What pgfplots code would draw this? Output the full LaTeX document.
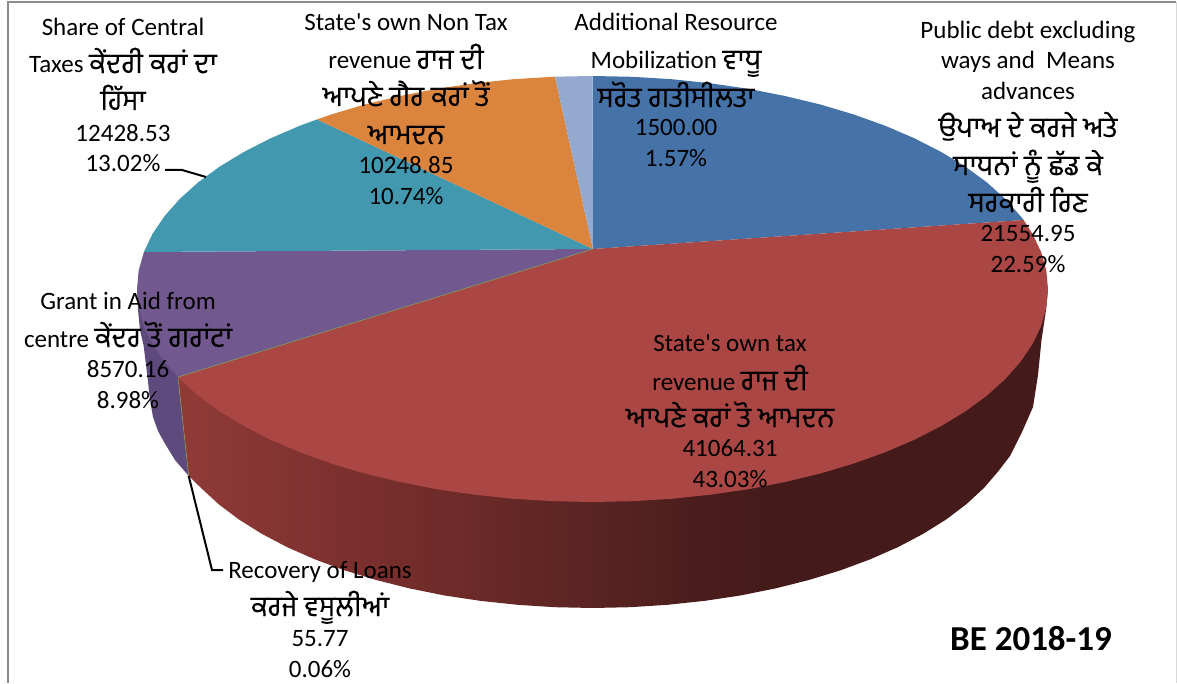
\documentclass[border=0pt]{standalone}
\usepackage{fontspec}
\usepackage{pgfplots}
\pgfplotsset{compat=1.18}
\setmainfont{Carlito}[Ligatures=TeXOff]
\newfontfamily\pa[Script=Gurmukhi,Scale=1.13,FakeBold=0.15]{Hind Jalandhar}

\definecolor{cblue}{HTML}{4572A7}
\definecolor{cred}{HTML}{AA4643}
\definecolor{cpurple}{HTML}{71588F}
\definecolor{cteal}{HTML}{4198AF}
\definecolor{corange}{HTML}{DB843D}
\definecolor{cpale}{HTML}{93A9CF}
\definecolor{cpurpleside}{HTML}{5E4A7D}
\definecolor{frame}{HTML}{8C8C8C}
\definecolor{hair}{HTML}{7F9A55}
\definecolor{rs0}{HTML}{8F3A37}
\definecolor{rs1}{HTML}{7E312F}
\definecolor{rs2}{HTML}{6E2B29}
\definecolor{rs3}{HTML}{5A2422}
\definecolor{rs4}{HTML}{4A1D1C}
\definecolor{rs5}{HTML}{441B1A}
\pgfdeclarehorizontalshading{redside}{100bp}{color(0bp)=(rs0); color(25.7bp)=(rs0); color(33.7bp)=(rs1); color(40.6bp)=(rs2); color(48.7bp)=(rs3); color(55bp)=(rs4); color(59.6bp)=(rs5); color(100bp)=(rs5)}

\newcommand{\lbl}[3]{\node[anchor=base,inner sep=0pt] at (axis cs:#1,#2) {#3};}

\begin{document}
\begin{tikzpicture}
\begin{axis}[
  scale only axis, width=1177pt, height=683pt,
  xmin=0, xmax=1177, ymin=0, ymax=683,
  y dir=reverse, hide axis, clip=false,
  nodes={font=\fontsize{25}{29}\selectfont},
]
% keeps the page at the full axis size
\addplot[draw=none] coordinates {(0,0) (1177,683)};
% frame
\addplot[draw=frame, line width=2pt] coordinates {(7.5,683) (7.5,2) (1176,2)};
\addplot[draw=black!15, line width=1pt] coordinates {(1176,2) (1176,683)};

% sides
\addplot[fill=cpurpleside, draw=none] coordinates {(137,289) (138,310) (140,330) (143.5,345) (147,373) (150,400) (153,417) (158,431) (164.6,443) (175,460) (188.7,476) (178,377) (300,300)} --cycle;
\addplot[shading=redside, draw=none] coordinates {(188.7,476) (201,487.9) (218.4,504) (238.6,519.3) (261.6,533.7) (287,547.1) (314.8,559.3) (344.7,570.4) (376.5,580.1) (409.9,588.5) (444.7,595.5) (480.7,600.9) (517.5,604.8) (554.8,607.2) (592.5,608) (630.2,607.2) (667.5,604.8) (704.3,600.9) (740.3,595.5) (775.1,588.5) (808.5,580.1) (840.3,570.4) (870.2,559.3) (898,547.1) (923.4,533.7) (946.4,519.3) (966.6,504) (984,487.9) (998.4,471.1) (1010,456) (1022,432) (1033,407) (1038,375) (1041.5,340) (1046,310) (1048,289) (178,377)} --cycle;

% top faces
\addplot[fill=cblue, draw=none] coordinates {(593,249) (592.5,76) (632.2,76.8) (671.6,79.2) (710.4,83.3) (748.3,88.8) (785,96) (820.3,104.5) (853.8,114.5) (885.3,125.8) (914.6,138.4) (941.4,152.1) (965.6,166.8) (987,182.5) (1005.3,199) (1020.5,216.2) (1023.6,220)} --cycle;
\addplot[fill=cred, draw=none] coordinates {(593,249) (1023.6,220) (1032.5,233.9) (1041.1,252) (1046.3,270.4) (1048,289) (1046.3,307.6) (1041.1,326) (1032.5,344.1) (1020.5,361.8) (1005.3,379) (987,395.5) (965.6,411.2) (941.4,425.9) (914.6,439.6) (885.3,452.2) (853.8,463.5) (820.3,473.5) (785,482) (748.3,489.2) (710.4,494.7) (671.6,498.8) (632.2,501.2) (592.5,502) (552.8,501.2) (513.4,498.8) (474.6,494.7) (436.7,489.2) (400,482) (364.7,473.5) (331.2,463.5) (299.7,452.2) (270.4,439.6) (243.6,425.9) (219.4,411.2) (198,395.5) (179.7,379) (178,377)} --cycle;
\addplot[fill=cpurple, draw=none] coordinates {(593,249) (178,377) (164.5,361.8) (152.5,344.1) (143.9,326) (138.7,307.6) (137,289) (138.7,270.4) (143.9,252)} --cycle;
\addplot[fill=cteal, draw=none] coordinates {(593,249) (143.9,252) (152.5,233.9) (164.5,216.2) (179.7,199) (198,182.5) (219.4,166.8) (243.6,152.1) (270.4,138.4) (299.7,125.8) (317,119.4)} --cycle;
\addplot[fill=corange, draw=none] coordinates {(593,249) (317,119.4) (331.2,114.5) (364.7,104.5) (400,96) (436.7,88.8) (474.6,83.3) (513.4,79.2) (552.8,76.8) (555,76.7)} --cycle;
\addplot[fill=cpale, draw=none] coordinates {(593,249) (555,76.7) (592.5,76)} --cycle;

% hairline of the 0.06% slice
\addplot[draw=hair, line width=0.6pt] coordinates {(593,249) (178,377) (188.7,476)};

% leader lines
\addplot[draw=black, line width=2pt] coordinates {(165,170) (182,170) (206,177)};
\addplot[draw=black, line width=2pt] coordinates {(188.7,476) (212,570) (223,570)};

% labels
\lbl{123}{36}{Share of Central}
\lbl{123}{73}{Taxes {\pa ਕੇਂਦਰੀ ਕਰਾਂ ਦਾ}}
\lbl{123}{110}{{\pa ਹਿੱਸਾ}}
\lbl{123}{142}{12428.53}
\lbl{123}{172}{13.02\%}

\lbl{406}{31}{State's own Non Tax}
\lbl{406}{69}{revenue {\pa ਰਾਜ ਦੀ}}
\lbl{406}{106}{{\pa ਆਪਣੇ ਗੈਰ ਕਰਾਂ ਤੋਂ}}
\lbl{406}{144}{{\pa ਆਮਦਨ}}
\lbl{406}{174}{10248.85}
\lbl{406}{205}{10.74\%}

\lbl{676}{31}{Additional Resource}
\lbl{676}{69}{Mobilization {\pa ਵਾਧੂ}}
\lbl{676}{107}{{\pa ਸਰੋਤ ਗਤੀਸੀਲਤਾ}}
\lbl{676}{136}{1500.00}
\lbl{676}{167}{1.57\%}

\lbl{1028}{39}{Public debt excluding}
\lbl{1028}{69}{ways and~~Means}
\lbl{1028}{100}{advances}
\lbl{1028}{137}{{\pa ਉਪਾਅ ਦੇ ਕਰਜੇ ਅਤੇ}}
\lbl{1028}{175}{{\pa ਸਾਧਨਾਂ ਨੂੰ ਛੱਡ ਕੇ}}
\lbl{1028}{212}{{\pa ਸਰਕਾਰੀ ਰਿਣ}}
\lbl{1028}{242}{21554.95}
\lbl{1028}{273}{22.59\%}

\lbl{128}{309}{Grant in Aid from}
\lbl{128}{347}{centre {\pa ਕੇਂਦਰ ਤੋਂ ਗਰਾਂਟਾਂ}}
\lbl{128}{377}{8570.16}
\lbl{128}{408}{8.98\%}

\lbl{730}{351}{State's own tax}
\lbl{730}{390}{revenue {\pa ਰਾਜ ਦੀ}}
\lbl{730}{427}{{\pa ਆਪਣੇ ਕਰਾਂ ਤੋ ਆਮਦਨ}}
\lbl{730}{456}{41064.31}
\lbl{730}{487}{43.03\%}

\lbl{320}{578}{Recovery of Loans}
\lbl{320}{616}{{\pa ਕਰਜੇ ਵਸੂਲੀਆਂ}}
\lbl{320}{646}{55.77}
\lbl{320}{677}{0.06\%}

\node[anchor=base,inner sep=0pt,font=\fontsize{35}{39}\selectfont\bfseries] at (axis cs:1031,650) {BE 2018-19};
\end{axis}
\end{tikzpicture}
\end{document}
